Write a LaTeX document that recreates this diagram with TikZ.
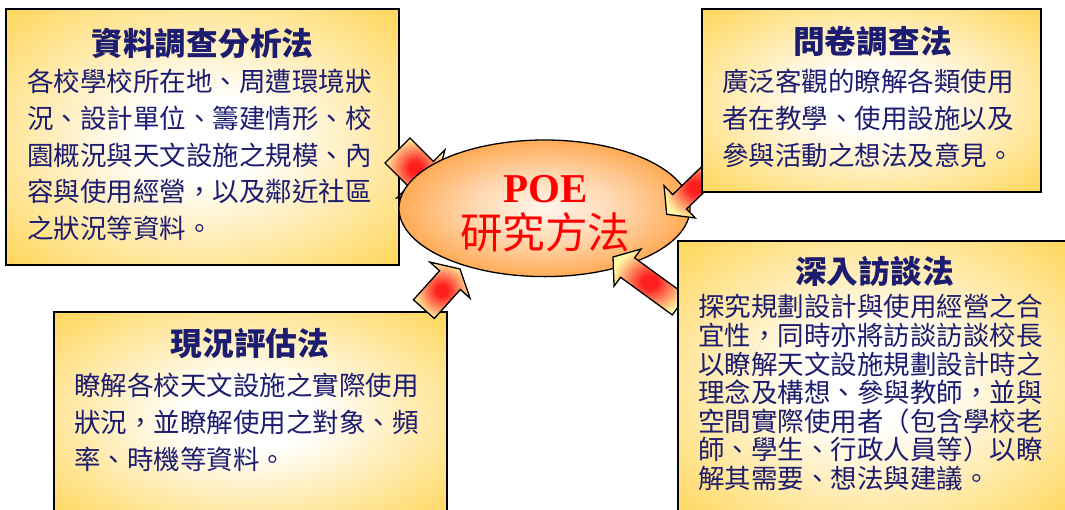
\documentclass[tikz,border=0pt]{standalone}
\usepackage{fontspec}
\setmainfont{Liberation Serif}
\newfontfamily\cjk{Noto Sans CJK TC}
\usetikzlibrary{shapes.geometric}

\definecolor{boxgold}{RGB}{255,201,38}
\definecolor{navytxt}{RGB}{28,28,112}
\definecolor{ellorange}{RGB}{255,146,36}
\definecolor{arrred}{RGB}{255,30,30}
\definecolor{arryel}{RGB}{255,250,165}

\pgfdeclareradialshading{boxshade}{\pgfpoint{0bp}{0bp}}{color(0bp)=(white); color(8bp)=(white); color(44bp)=(boxgold); color(100bp)=(boxgold)}
\pgfdeclareradialshading{ellshade}{\pgfpoint{0bp}{0bp}}{color(0bp)=(white!92!ellorange); color(12bp)=(white!65!ellorange); color(32bp)=(ellorange); color(100bp)=(ellorange)}
\pgfdeclareradialshading{arrshade}{\pgfpoint{0bp}{0bp}}{color(0bp)=(arrred); color(5bp)=(arrred); color(26bp)=(arryel); color(100bp)=(arryel)}

\tikzset{
  infobox/.style={draw=black, line width=1.3pt, shade, shading=boxshade, inner sep=0pt, rectangle},
  boxtitle/.style={font=\cjk\bfseries\fontsize{31.7pt}{36pt}\selectfont, text=navytxt, inner sep=0pt, anchor=base},
  boxbody/.style={font=\cjk\fontsize{26.5pt}{30pt}\selectfont, text=navytxt, inner sep=0pt, anchor=base west},
  blockarr/.style={draw=black, line width=1.3pt, line join=miter, shade, shading=arrshade},
  centreoval/.style={ellipse, draw=black, line width=1.3pt, shade, shading=ellshade, inner sep=0pt},
}

% #1 tip x, #2 tip y, #3 angle, #4 total length, #5 head length, #6 head half width, #7 shaft half width
\newcommand\blockarrow[7]{%
  \begin{scope}[shift={(#1,#2)}, rotate=#3]
    \path[blockarr] (0,0) -- (-#5,#6) -- (-#5,#7) -- (-#4,#7) -- (-#4,-#7) -- (-#5,-#7) -- (-#5,-#6) -- cycle;
  \end{scope}}

\begin{document}
\begin{tikzpicture}[x=1pt,y=-1pt]
\useasboundingbox (0,0) rectangle (1065,509);

% box 1
\node[infobox, minimum width=393pt, minimum height=256pt] (box1) at (202.5,137) {};
\node[boxtitle] (t1) at (202.5,55.3) {資料調查分析法};
\node[boxbody] (b1a) at (27,91.8) {各校學校所在地、周遭環境狀};
\node[boxbody] (b1b) at (27,128.5) {況、設計單位、籌建情形、校};
\node[boxbody] (b1c) at (27,165.2) {園概況與天文設施之規模、內};
\node[boxbody] (b1d) at (27,201.9) {容與使用經營，以及鄰近社區};
\node[boxbody] (b1e) at (27,238.6) {之狀況等資料。};

% box 4
\node[infobox, minimum width=393pt, minimum height=208pt] (box4) at (250.5,416) {};
\node[boxtitle] (t4) at (250,355.4) {現況評估法};
\node[boxbody] (b4a) at (74,395.1) {瞭解各校天文設施之實際使用};
\node[boxbody] (b4b) at (74,432.3) {狀況，並瞭解使用之對象、頻};
\node[boxbody] (b4c) at (74,469.5) {率、時機等資料。};

% left arrows (under the oval)
\blockarrow{435}{188}{-45}{53}{20}{34}{17.7}
\blockarrow{460}{269}{48}{54}{15}{27}{14}

% central oval
\node[centreoval, minimum width=291pt, minimum height=136.6pt] (oval) at (544.5,208.3) {};
\node[font=\bfseries\fontsize{41pt}{45pt}\selectfont, text=red, inner sep=0pt, anchor=base] (poe) at (545.5,202) {POE};
\node[font=\cjk\fontsize{42.5pt}{46pt}\selectfont, text=red, inner sep=0pt, anchor=base] (method) at (545,248.7) {研究方法};

% right arrows (over the oval, under the boxes)
\blockarrow{666.7}{214.3}{-136}{72}{18}{22.5}{10}
\blockarrow{613}{257}{144}{82}{18}{23}{12}

% box 2
\node[infobox, minimum width=339pt, minimum height=183pt] (box2) at (871.5,100.5) {};
\node[boxtitle] (t2) at (872.5,53.7) {問卷調查法};
\node[boxbody] (b2a) at (722,91.8) {廣泛客觀的瞭解各類使用};
\node[boxbody] (b2b) at (722,128.5) {者在教學、使用設施以及};
\node[boxbody] (b2c) at (722,165.2) {參與活動之想法及意見。};

% box 3
\node[infobox, minimum width=392pt, minimum height=280pt] (box3) at (874,381) {};
\node[boxtitle] (t3) at (874.5,283.7) {深入訪談法};
\node[boxbody] (b3a) at (698,316.8) {探究規劃設計與使用經營之合};
\node[boxbody] (b3b) at (698,345.4) {宜性，同時亦將訪談訪談校長};
\node[boxbody] (b3c) at (698,374.0) {以瞭解天文設施規劃設計時之};
\node[boxbody] (b3d) at (698,402.6) {理念及構想、參與教師，並與};
\node[boxbody] (b3e) at (698,431.2) {空間實際使用者（包含學校老};
\node[boxbody] (b3f) at (698,459.8) {師、學生、行政人員等）以瞭};
\node[boxbody] (b3g) at (698,488.4) {解其需要、想法與建議。};
\end{tikzpicture}
\end{document}
